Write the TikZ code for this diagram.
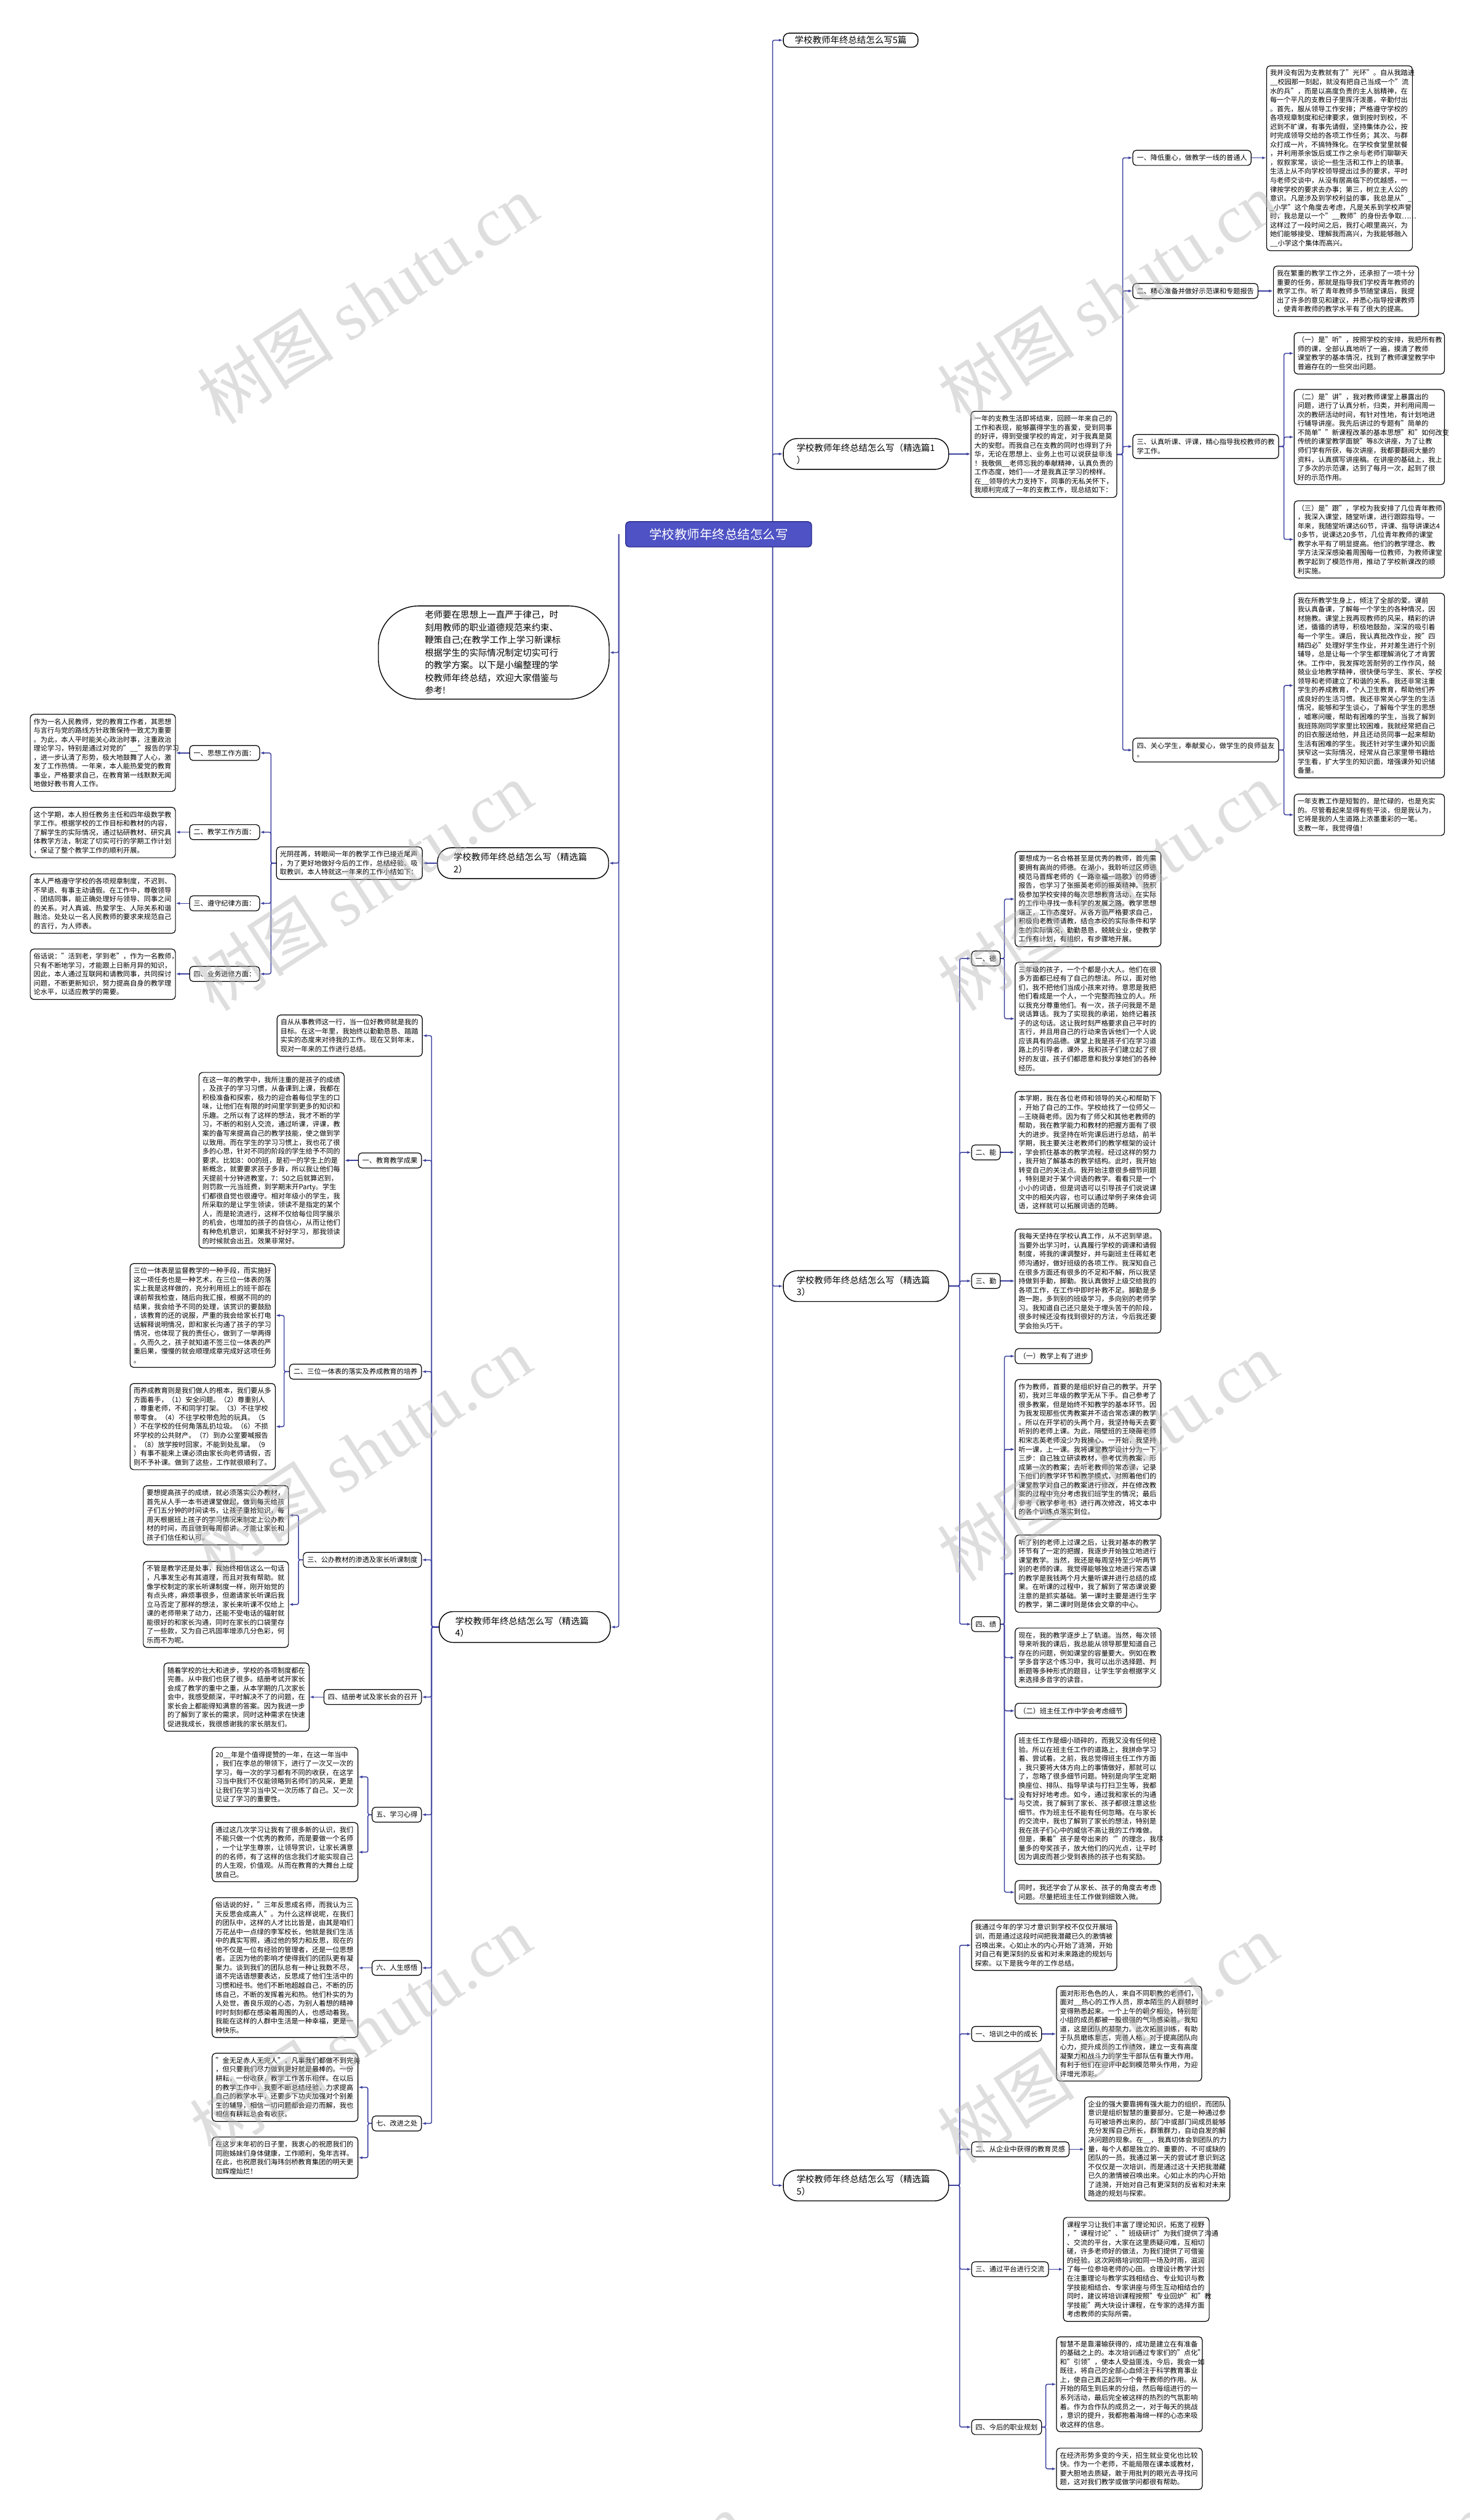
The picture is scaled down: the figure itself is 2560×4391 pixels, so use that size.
\documentclass[tikz,border=0pt]{standalone}
\usepackage{fontspec}
\setmainfont{Noto Sans CJK SC}
\newfontfamily\wmlat{Liberation Serif}
\usetikzlibrary{arrows.meta}
\pgfdeclarelayer{bg}
\pgfdeclarelayer{fg}
\pgfsetlayers{bg,main,fg}
\definecolor{linkc}{HTML}{3B3F9E}
\definecolor{ctrfill}{HTML}{4E52C4}
\definecolor{ctrdraw}{HTML}{2B2E8C}
\definecolor{wmc}{HTML}{B8B8B8}
\tikzset{
 tb/.style={draw=black, line width=1.3pt, rounded corners=6pt, fill=white, align=left, anchor=north west, inner xsep=6pt, inner ysep=7pt, font=\fontsize{12}{15.6}\selectfont},
 lb/.style={draw=black, line width=1.3pt, rounded corners=6pt, fill=white, align=left, inner xsep=7pt, inner ysep=7.5pt, font=\fontsize{12}{15.6}\selectfont},
 big/.style={draw=black, line width=1.5pt, rounded corners=24pt, fill=white, align=left, text width=242pt, inner xsep=23pt, inner ysep=9pt, font=\fontsize{15.5}{21}\selectfont},
 topn/.style={draw=black, line width=1.5pt, rounded corners=10pt, fill=white, inner xsep=20pt, inner ysep=5pt, font=\fontsize{15.5}{21}\selectfont},
 ctr/.style={draw=ctrdraw, line width=1.5pt, rounded corners=6pt, fill=ctrfill, text=white, minimum width=324pt, minimum height=44pt, font=\fontsize{22}{26}\selectfont},
 conn/.style={draw=linkc, line width=1.6pt, rounded corners=3pt, -{Latex[length=7pt,width=5pt]}},
 wm/.style={text=wmc, text opacity=0.45, rotate=33, font=\fontsize{120}{120}\selectfont},
}
\begin{document}
\begin{tikzpicture}[x=1pt,y=-1pt]
\begin{pgfonlayer}{bg}
\fill[white] (0,0) rectangle (2560,4391);
\end{pgfonlayer}
\useasboundingbox (0,0) rectangle (2560,4391);

% ---------- bus coordinates ----------
\coordinate (RB) at (1346,0);
\coordinate (LB) at (1078,0);
\coordinate (b1) at (1956,0);
\coordinate (b13) at (2237,0);
\coordinate (b3) at (1672,0);
\coordinate (b31) at (1750,0);
\coordinate (b54) at (1822,0);
\coordinate (b2) at (472,0);
\coordinate (b4) at (752,0);
\coordinate (b42) at (495,0);
\coordinate (b43) at (520,0);
\coordinate (b45) at (641,0);

% ---------- center ----------
\node[ctr] (C) at (1252,931) {学校教师年终总结怎么写};

% ---------- right side ----------
\node[topn, anchor=west] (P0) at (1364,70) {学校教师年终总结怎么写5篇};

\node[big, anchor=west] (P1) at (1364,791) {学校教师年终总结怎么写（精选篇1\\）};
\node[tb, text width=242pt] (I1) at (1691,716) {一年的支教生活即将结束，回顾一年来自己的\\工作和表现，能够赢得学生的喜爱，受到同事\\的好评，得到受援学校的肯定，对于我真是莫\\大的安慰。而我自己在支教的同时也得到了升\\华，无论在思想上、业务上也可以说获益非浅\\！我敬佩\_\_老师忘我的奉献精神，认真负责的\\工作态度，她们——才是我真正学习的榜样。\\在\_\_领导的大力支持下，同事的无私关怀下，\\我顺利完成了一年的支教工作，现总结如下：};

\node[lb, anchor=west] (P1a) at (1973,275) {一、降低重心，做教学一线的普通人};
\node[tb, text width=242pt] (P1aT) at (2206,114) {我并没有因为支教就有了"光环"。自从我踏进\\\_\_校园那一刻起，就没有把自己当成一个"流\\水的兵"，而是以高度负责的主人翁精神，在\\每一个平凡的支教日子里挥汗泼墨，辛勤付出\\。首先，服从领导工作安排；严格遵守学校的\\各项规章制度和纪律要求，做到按时到校，不\\迟到不旷课，有事先请假，坚持集体办公，按\\时完成领导交给的各项工作任务；其次、与群\\众打成一片，不搞特殊化。在学校食堂里就餐\\，并利用茶余饭后或工作之余与老师们聊聊天\\，叙叙家常，谈论一些生活和工作上的琐事。\\生活上从不向学校领导提出过多的要求，平时\\与老师交谈中，从没有居高临下的优越感，一\\律按学校的要求去办事；第三，树立主人公的\\意识。凡是涉及到学校利益的事，我总是从"\_\\\_小学"这个角度去考虑，凡是关系到学校声誉\\时，我总是以一个"\_\_教师"的身份去争取……\\这样过了一段时间之后，我打心眼里高兴，为\\她们能够接受、理解我而高兴，为我能够融入\\\_\_小学这个集体而高兴。};

\node[lb, anchor=west] (P1b) at (1973,507) {二、精心准备并做好示范课和专题报告};
\node[tb, text width=241pt] (P1bT) at (2218,463) {我在繁重的教学工作之外，还承担了一项十分\\重要的任务，那就是指导我们学校青年教师的\\教学工作。听了青年教师多节随堂课后，我提\\出了许多的意见和建议，并悉心指导授课教师\\，使青年教师的教学水平有了很大的提高。};

\node[lb, anchor=west, text width=240pt] (P1c) at (1973,778) {三、认真听课、评课，精心指导我校教师的教\\学工作。};
\node[tb, text width=250pt] (P1c1) at (2254,579) {（一）是"听"，按照学校的安排，我把所有教\\师的课，全部认真地听了一遍，摸清了教师\\课堂教学的基本情况，找到了教师课堂教学中\\普遍存在的一些突出问题。};
\node[tb, text width=250pt] (P1c2) at (2254,678) {（二）是"讲"，我对教师课堂上暴露出的\\问题，进行了认真分析，归类，并利用间周一\\次的教研活动时间，有针对性地，有计划地进\\行辅导讲座。我先后讲过的专题有"简单的\\不简单""新课程改革的基本思想"和"如何改变\\传统的课堂教学面貌"等8次讲座，为了让教\\师们学有所获，每次讲座，我都要翻阅大量的\\资料，认真撰写讲座稿。在讲座的基础上，我上\\了多次的示范课，达到了每月一次，起到了很\\好的示范作用。};
\node[tb, text width=250pt] (P1c3) at (2254,872) {（三）是"跟"，学校为我安排了几位青年教师\\，我深入课堂，随堂听课，进行跟踪指导。一\\年来，我随堂听课达60节，评课、指导讲课达4\\0多节，说课达20多节，几位青年教师的课堂\\教学水平有了明显提高。他们的教学理念、教\\学方法深深感染着周围每一位教师，为教师课堂\\教学起到了模范作用，推动了学校新课改的顺\\利实施。};

\node[lb, anchor=west, text width=240pt] (P1d) at (1973,1307) {四、关心学生，奉献爱心，做学生的良师益友\\。};
\node[tb, text width=250pt] (P1d1) at (2254,1033) {我在所教学生身上，倾注了全部的爱。课前\\我认真备课，了解每一个学生的各种情况，因\\材施教。课堂上我再现教师的风采，精彩的讲\\述，循循的诱导，积极地鼓励，深深的吸引着\\每一个学生。课后，我认真批改作业，按"四\\精四必"处理好学生作业，并对差生进行个别\\辅导，总是让每一个学生都理解消化了才肯罢\\休。工作中，我发挥吃苦耐劳的工作作风，兢\\兢业业地教学精神，很快便与学生、家长、学校\\领导和老师建立了和谐的关系。我还非常注重\\学生的养成教育，个人卫生教育，帮助他们养\\成良好的生活习惯。我还非常关心学生的生活\\情况，能够和学生谈心，了解每个学生的思想\\，嘘寒问暖，帮助有困难的学生，当我了解到\\我班陈刚同学家里比较困难，我就经常把自己\\的旧衣服送给他，并且还动员同事一起来帮助\\生活有困难的学生。我还针对学生课外知识面\\狭窄这一实际情况，经常从自己家里带书籍给\\学生看，扩大学生的知识面，增强课外知识储\\备量。};
\node[tb, text width=250pt] (P1d2) at (2254,1383) {一年支教工作是短暂的，是忙碌的，也是充实\\的。尽管看起来显得有些平淡，但是我认为，\\它将是我的人生道路上浓墨重彩的一笔。\\支教一年，我觉得值！};

% ----- 篇3 -----
\node[big, anchor=west] (P3) at (1364,2241) {学校教师年终总结怎么写（精选篇\\3）};
\node[lb, anchor=west] (P3a) at (1692,1670) {一、德};
\node[tb, text width=242pt] (P3a1) at (1768,1483) {要想成为一名合格甚至是优秀的教师，首先需\\要拥有高尚的师德。在湖小，我聆听过区师德\\模范马晋辉老师的《一路幸福一路歌》的师德\\报告，也学习了张振英老师的振英精神。我积\\极参加学校安排的每次思想教育活动，在实际\\的工作中寻找一条科学的发展之路。教学思想\\端正，工作态度好。从各方面严格要求自己，\\积极向老教师请教，结合本校的实际条件和学\\生的实际情况，勤勤恳恳，兢兢业业，使教学\\工作有计划，有组织，有步骤地开展。};
\node[tb, text width=242pt] (P3a2) at (1768,1676) {三年级的孩子，一个个都是小大人。他们在很\\多方面都已经有了自己的想法。所以，面对他\\们，我不把他们当成小孩来对待。意思是我把\\他们看成是一个人，一个完整而独立的人。所\\以我充分尊重他们。有一次，孩子问我是不是\\说话算话。我为了实现我的承诺，始终记着孩\\子的这句话。这让我时刻严格要求自己平时的\\言行，并且用自己的行动来告诉他们一个人说\\应该具有的品德。课堂上我是孩子们在学习道\\路上的引导者，课外，我和孩子们建立起了很\\好的友谊，孩子们都愿意和我分享她们的各种\\经历。};
\node[lb, anchor=west] (P3b) at (1692,2008) {二、能};
\node[tb, text width=242pt] (P3b1) at (1768,1901) {本学期，我在各位老师和领导的关心和帮助下\\，开始了自己的工作。学校给找了一位师父—\\—王晓薇老师。因为有了师父和其他老教师的\\帮助，我在教学能力和教材的把握方面有了很\\大的进步。我坚持在听完课后进行总结，前半\\学期，我主要关注老教师们的教学框架的设计\\，学会抓住基本的教学流程。经过这样的努力\\，我开始了解基本的教学结构。此时，我开始\\转变自己的关注点。我开始注意很多细节问题\\，特别是对于某个词语的教学。看看只是一个\\小小的词语，但是词语可以引导孩子们说说课\\文中的相关内容，也可以通过举例子来体会词\\语，这样就可以拓展词语的范畴。};
\node[lb, anchor=west] (P3c) at (1692,2232) {三、勤};
\node[tb, text width=242pt] (P3c1) at (1768,2141) {我每天坚持在学校认真工作，从不迟到早退。\\当要外出学习时，认真履行学校的调课和请假\\制度，将我的课调整好，并与副班主任蒋虹老\\师沟通好，做好班级的各项工作。我深知自己\\在很多方面还有很多的不足和不解，所以我坚\\持做到手勤，脚勤。我认真做好上级交给我的\\各项工作，在工作中即时补救不足。脚勤是多\\跑一跑，多到别的班级学习，多向别的老师学\\习。我知道自己还只是处于埋头苦干的阶段，\\很多时候还没有找到很好的方法，今后我还要\\学会抬头巧干。};
\node[lb, anchor=west] (P3d) at (1692,2830) {四、绩};
\node[lb, anchor=west] (P3d1) at (1768,2363) {（一）教学上有了进步};
\node[tb, text width=242pt] (P3d2) at (1768,2403) {作为教师，首要的是组织好自己的教学。开学\\初，我对三年级的教学无从下手。自己参考了\\很多教案，但是始终不知教学的基本环节。因\\为我发现那些优秀教案并不适合常态课的教学\\。所以在开学初的头两个月，我坚持每天去要\\听别的老师上课。为此，隔壁班的王晓薇老师\\和宋志英老师没少为我操心。一开始，我坚持\\听一课，上一课。我将课堂教学设计分为一下\\三步：自己独立研读教材，参考优秀教案，形\\成第一次的教案；去听老教师的常态课，记录\\下他们的教学环节和教学模式，对照着他们的\\课堂教学对自己的教案进行修改，并在修改教\\案的过程中充分考虑我们班学生的情况；最后\\参考《教学参考书》进行再次修改，将文本中\\的各个训练点落实到位。};
\node[tb, text width=242pt] (P3d3) at (1768,2674) {听了别的老师上过课之后，让我对基本的教学\\环节有了一定的把握，我逐步开始独立地进行\\课堂教学。当然，我还是每周坚持至少听两节\\别的老师的课。我觉得能够独立地进行常态课\\的教学是我钱两个月大量听课并进行总结的成\\果。在听课的过程中，我了解到了常态课说要\\注意的是抓实基础。第一课时主要是进行生字\\的教学，第二课时则是体会文章的中心。};
\node[tb, text width=242pt] (P3d4) at (1768,2836) {现在，我的教学逐步上了轨道。当然，每次领\\导来听我的课后，我总能从领导那里知道自己\\存在的问题，例如课堂的容量要大。例如在教\\学多音字这个练习中，我可以出示选择题、判\\断题等多种形式的题目，让学生学会根据字义\\来选择多音字的读音。};
\node[lb, anchor=west] (P3d5) at (1768,2981) {（二）班主任工作中学会考虑细节};
\node[tb, text width=242pt] (P3d6) at (1768,3020) {班主任工作是细小琐碎的，而我又没有任何经\\验。所以在班主任工作的道路上，我拼命学习\\着、尝试着。之前，我总觉得班主任工作方面\\，我只要将大体方向上的事情做好，那就可以\\了，忽略了很多细节问题。特别是向学生定期\\换座位、排队、指导早读与打扫卫生等，我都\\没有好好地考虑。如今，通过我和家长的沟通\\与交流，我了解到了家长、孩子都很注意这些\\细节。作为班主任不能有任何忽略。在与家长\\的交流中，我也了解到了家长的想法，特别是\\我在孩子们心中的威信不高让我的工作难做。\\但是，秉着"孩子是夸出来的`"的理念，我尽\\量多的夸奖孩子，放大他们的闪光点，让平时\\因为调皮而甚少受到表扬的孩子也有奖励。};
\node[tb, text width=242pt] (P3d7) at (1768,3276) {同时，我还学会了从家长、孩子的角度去考虑\\问题。尽量把班主任工作做到细致入微。};

% ----- 篇5 -----
\node[big, anchor=west] (P5) at (1364,3808) {学校教师年终总结怎么写（精选篇\\5）};
\node[tb, text width=241pt] (I5) at (1692,3345) {我通过今年的学习才意识到学校不仅仅开展培\\训，而是通过这段时间把我潜藏已久的激情被\\召唤出来。心如止水的内心开始了涟漪，开始\\对自己有更深刻的反省和对未来路途的规划与\\探索。以下是我今年的工作总结。};
\node[lb, anchor=west] (P5a) at (1692,3544) {一、培训之中的成长};
\node[tb, text width=241pt] (P5a1) at (1840,3460) {面对形形色色的人，来自不同职教的老师们，\\面对\_\_热心的工作人员，原本陌生的人群顿时\\变得熟悉起来。一个上午的朝夕相处，特别是\\小组的成员都被一股很强的气场感染着。我知\\道，这是团队的凝聚力。此次拓展训练，有助\\于队员磨练意志，完善人格，对于提高团队向\\心力，提升成员的工作绩效，建立一支有高度\\凝聚力和战斗力的学生干部队伍有重大作用。\\有利于他们在迎评中起到模范带头作用，为迎\\评增光添彩。};
\node[lb, anchor=west] (P5b) at (1692,3745) {二、从企业中获得的教育灵感};
\node[tb, text width=241pt] (P5b1) at (1889,3653) {企业的强大要靠拥有强大能力的组织，而团队\\意识是组织智慧的重要部分。它是一种通过参\\与可被培养出来的，部门中或部门间成员能够\\充分发挥自己所长，群策群力，自动自发的解\\决问题的现象。在\_\_，我真切体会到团队的力\\量，每个人都是独立的、重要的、不可或缺的\\团队的一员。我通过第一天的尝试才意识到这\\不仅仅是一次培训，而是通过这十天把我潜藏\\已久的激情被召唤出来。心如止水的内心开始\\了涟漪，开始对自己有更深刻的反省和对未来\\路途的规划与探索。};
\node[lb, anchor=west] (P5c) at (1692,3954) {三、通过平台进行交流};
\node[tb, text width=242pt] (P5c1) at (1852,3863) {课程学习让我们丰富了理论知识，拓宽了视野\\，"课程讨论"、"班级研讨"为我们提供了沟通\\、交流的平台，大家在这里质疑问难，互相切\\磋，许多老师好的做法，为我们提供了可借鉴\\的经验。这次网络培训如同一场及时雨，滋润\\了每一位参培老师的心田。合理设计教学计划\\在注重理论与教学实践相结合、专业知识与教\\学技能相结合、专家讲座与师生互动相结合的\\同时，建议将培训课程按照"专业回炉"和"教\\学技能"两大块设计课程，在专家的选择方面\\考虑教师的实际所需。};
\node[lb, anchor=west] (P5d) at (1692,4229) {四、今后的职业规划};
\node[tb, text width=242pt] (P5d1) at (1840,4071) {智慧不是靠灌输获得的，成功是建立在有准备\\的基础之上的。本次培训通过专家们的"点化"\\和"引领"，使本人受益匪浅，今后，我会一如\\既往，将自己的全部心血倾注于科学教育事业\\上，使自己真正起到一个骨干教师的作用。从\\开始的陌生到后来的分组，然后每组进行的一\\系列活动，最后完全被这样的热烈的气氛影响\\着。作为合作队的成员之一，对于每天的挑战\\，意识的提升，我都抱着海绵一样的心态来吸\\收这样的信息。};
\node[tb, text width=242pt] (P5d2) at (1840,4265) {在经济形势多变的今天，招生就业变化也比较\\快。作为一个老师，不能局限在课本或教材，\\要大胆地去质疑，敢于用批判的眼光去寻找问\\题，这对我们教学或做学问都很有帮助。};

% ---------- left side ----------
\node[draw=black, line width=1.5pt, rounded corners=70pt, fill=white, align=left, text width=240pt, inner xsep=81pt, inner ysep=8pt, font=\fontsize{15.5}{22}\selectfont, anchor=east] (IL) at (1062,1137) {老师要在思想上一直严于律己，时\\刻用教师的职业道德规范来约束、\\鞭策自己;在教学工作上学习新课标\\根据学生的实际情况制定切实可行\\的教学方案。以下是小编整理的学\\校教师年终总结，欢迎大家借鉴与\\参考!};

% ----- 篇2 -----
\node[big, anchor=east, inner xsep=28pt] (P2) at (1061,1504) {学校教师年终总结怎么写（精选篇\\2）};
\node[tb, text width=242pt] (I2) at (481,1475) {光阴荏苒，转眼间一年的教学工作已接近尾声\\，为了更好地做好今后的工作，总结经验、吸\\取教训，本人特就这一年来的工作小结如下：};
\node[lb, anchor=east] (P2a) at (453,1312) {一、思想工作方面：};
\node[tb, text width=241pt] (P2a1) at (52,1244) {作为一名人民教师，党的教育工作者，其思想\\与言行与党的路线方针政策保持一致尤为重要\\。为此，本人平时能关心政治时事，注重政治\\理论学习，特别是通过对党的"\_\_"报告的学习\\，进一步认清了形势，极大地鼓舞了人心，激\\发了工作热情。一年来，本人能热爱党的教育\\事业，严格要求自己，在教育第一线默默无闻\\地做好教书育人工作。};
\node[lb, anchor=east] (P2b) at (453,1450) {二、教学工作方面：};
\node[tb, text width=241pt] (P2b1) at (52,1406) {这个学期，本人担任教务主任和四年级数学教\\学工作。根据学校的工作目标和教材的内容，\\了解学生的实际情况，通过钻研教材、研究具\\体教学方法，制定了切实可行的学期工作计划\\，保证了整个教学工作的顺利开展。};
\node[lb, anchor=east] (P2c) at (453,1574) {三、遵守纪律方面：};
\node[tb, text width=241pt] (P2c1) at (52,1522) {本人严格遵守学校的各项规章制度，不迟到、\\不早退、有事主动请假。在工作中，尊敬领导\\、团结同事，能正确处理好与领导、同事之间\\的关系。对人真诚、热爱学生、人际关系和谐\\融洽。处处以一名人民教师的要求来规范自己\\的言行，为人师表。};
\node[lb, anchor=east] (P2d) at (453,1697) {四、业务进修方面：};
\node[tb, text width=241pt] (P2d1) at (52,1653) {俗话说："活到老，学到老"，作为一名教师，\\只有不断地学习，才能跟上日新月异的知识，\\因此，本人通过互联网和请教同事，共同探讨\\问题，不断更新知识，努力提高自身的教学理\\论水平，以适应教学的需要。};

% ----- 篇4 -----
\node[big, anchor=east, inner xsep=28pt] (P4) at (1064,2835) {学校教师年终总结怎么写（精选篇\\4）};
\node[tb, text width=241pt] (I4) at (482,1768) {自从从事教师这一行，当一位好教师就是我的\\目标。在这一年里，我始终以勤勤恳恳、踏踏\\实实的态度来对待我的工作。现在又到年末，\\现对一年来的工作进行总结。};
\node[lb, anchor=east] (P4a) at (735,2022) {一、教育教学成果};
\node[tb, text width=241pt] (P4a1) at (346,1868) {在这一年的教学中，我所注重的是孩子的成绩\\，及孩子的学习习惯，从备课到上课，我都在\\积极准备和探索，极力的迎合着每位学生的口\\味，让他们在有限的时间里学到更多的知识和\\乐趣。之所以有了这样的想法，我才不断的学\\习，不断的和别人交流，通过听课，评课，教\\案的备写来提高自己的教学技能，使之做到学\\以致用。而在学生的学习习惯上，我也花了很\\多的心思，针对不同的阶段的学生给予不同的\\要求。比如8：00的班，是初一的学生上的是\\新概念，就要要求孩子多背，所以我让他们每\\天提前十分钟进教室，7：50之后就算迟到，\\则罚款一元当班费，到学期末开Party。学生\\们都很自觉也很遵守。相对年级小的学生，我\\所采取的是让学生领读，领读不是指定的某个\\人，而是轮流进行，这样不仅给每位同学展示\\的机会，也增加的孩子的自信心，从而让他们\\有种危机意识，如果我不好好学习，那我领读\\的时候就会出丑。效果非常好。};
\node[lb, anchor=east] (P4b) at (735,2390) {二、三位一体表的落实及养成教育的培养};
\node[tb, text width=241pt] (P4b1) at (226,2201) {三位一体表是监督教学的一种手段，而实施好\\这一项任务也是一种艺术，在三位一体表的落\\实上我是这样做的，充分利用班上的班干部在\\课前帮我检查，随后向我汇报，根据不同的的\\结果，我会给予不同的处理，该赏识的要鼓励\\，该教育的还的说服，严重的我会给家长打电\\话解释说明情况，即和家长沟通了孩子的学习\\情况，也体现了我的责任心，做到了一举两得\\。久而久之，孩子就知道不签三位一体表的严\\重后果，慢慢的就会顺理成章完成好这项任务\\。};
\node[tb, text width=241pt] (P4b2) at (226,2410) {而养成教育则是我们做人的根本，我们要从多\\方面着手，（1）安全问题。（2）尊重别人\\，尊重老师，不和同学打架。（3）不往学校\\带零食。（4）不往学校带危险的玩具。（5\\）不在学校的任何角落乱扔垃圾。（6）不损\\坏学校的公共财产。（7）到办公室要喊报告\\。（8）放学按时回家，不能到处乱窜。（9\\）有事不能来上课必须由家长向老师请假，否\\则不予补课。做到了这些，工作就很顺利了。};
\node[lb, anchor=east] (P4c) at (735,2718) {三、公办教材的渗透及家长听课制度};
\node[tb, text width=241pt] (P4c1) at (249,2588) {要想提高孩子的成绩，就必须落实公办教材，\\首先从人手一本书进课堂做起，做到每天给孩\\子们五分钟的时间读书，让孩子重拾知识，每\\周天根据班上孩子的学习情况来制定上公办教\\材的时间，而且做到每周都讲，才能让家长和\\孩子们信任和认可。};
\node[tb, text width=241pt] (P4c2) at (249,2720) {不管是教学还是处事，我始终相信这么一句话\\，凡事发生必有其道理，而且对我有帮助。就\\像学校制定的家长听课制度一样，刚开始觉的\\有点头疼，麻烦事很多，但邀请家长听课后我\\立马否定了那样的想法，家长来听课不仅给上\\课的老师带来了动力，还能不受电话的辐射就\\能很好的和家长沟通，同时在家长的口袋里存\\了一些款，又为自己巩固率增添几分色彩，何\\乐而不为呢。};
\node[lb, anchor=east] (P4d) at (735,2957) {四、结册考试及家长会的召开};
\node[tb, text width=241pt] (P4d1) at (285,2897) {随着学校的壮大和进步，学校的各项制度都在\\完善。从中我们也获了很多。结册考试开家长\\会成了教学的重中之重，从本学期的几次家长\\会中，我感受颇深，平时解决不了的问题，在\\家长会上都能得知满意的答案。因为我进一步\\的了解到了家长的需求，同时这种需求在快速\\促进我成长，我很感谢我的家长朋友们。};
\node[lb, anchor=east] (P4e) at (735,3162) {五、学习心得};
\node[tb, text width=242pt] (P4e1) at (369,3044) {20\_\_年是个值得提赞的一年，在这一年当中\\，我们在李总的带领下，进行了一次又一次的\\学习，每一次的学习都有不同的收获，在这学\\习当中我们不仅能领略到名师们的风采，更是\\让我们在学习当中又一次历练了自己。又一次\\见证了学习的重要性。};
\node[tb, text width=242pt] (P4e2) at (369,3175) {通过这几次学习让我有了很多新的认识，我们\\不能只做一个优秀的教师，而是要做一个名师\\，一个让学生尊崇，让领导赏识，让家长满意\\的的名师，有了这样的信念我们才能实现自己\\的人生观，价值观。从而在教育的大舞台上绽\\放自己。};
\node[lb, anchor=east] (P4f) at (735,3429) {六、人生感悟};
\node[tb, text width=242pt] (P4f1) at (369,3306) {俗话说的好，"三年反思成名师，而我认为三\\天反思会成高人"。为什么这样说呢，在我们\\的团队中，这样的人才比比皆是，由其是咱们\\万花丛中一点绿的李军校长，他就是我们生活\\中的真实写照，通过他的努力和反思，现在的\\他不仅是一位有经验的管理者，还是一位思想\\者。正因为他的影响才使得我们的团队更有凝\\聚力。谈到我们的团队总有一种让我数不尽，\\道不完话语想要表达，反思成了他们生活中的\\习惯和经书。他们不断地超越自己，不断的历\\练自己，不断的发挥着光和热。他们朴实的为\\人处世，善良乐观的心态，为别人着想的精神\\时时刻刻都在感染着周围的人，也感动着我。\\我能在这样的人群中生活是一种幸福，更是一\\种快乐。};
\node[lb, anchor=east] (P4g) at (735,3700) {七、改进之处};
\node[tb, text width=242pt] (P4g1) at (369,3577) {"金无足赤人无完人"，凡事我们都做不到完美\\，但只要我们尽力做到更好就是最棒的。一份\\耕耘，一份收获，教学工作苦乐相伴。在以后\\的教学工作中，我要不断总结经验，力求提高\\自己的教学水平，还要多下功夫加强对个别差\\生的辅导，相信一切问题都会迎刃而解，我也\\相信有耕耘总会有收获。};
\node[tb, text width=242pt] (P4g2) at (369,3723) {在这岁末年初的日子里，我衷心的祝愿我们的\\同胞姊妹们身体健康，工作顺利，兔年吉祥。\\在此，也祝愿我们海玮剑桥教育集团的明天更\\加辉煌灿烂！};

% ---------- connectors ----------
\begin{pgfonlayer}{bg}
\foreach \t in {P0,P1,P3,P5} \draw[conn] (C.center -| RB) |- (\t.west);
\foreach \t in {IL,P2,P4} \draw[conn] (C.center -| LB) |- (\t.east);
\draw[conn] (P1.east) -- (P1.east -| I1.west);
\foreach \t in {P1a,P1b,P1c,P1d} \draw[conn] (I1.east) -- (I1.east -| b1) |- (\t.west);
\draw[conn] (P1a.east) -- (P1a.east -| P1aT.west);
\draw[conn] (P1b.east) -- (P1b.east -| P1bT.west);
\foreach \t in {P1c1,P1c2,P1c3} \draw[conn] (P1c.east) -- (P1c.east -| b13) |- (\t.west);
\foreach \t in {P1d1,P1d2} \draw[conn] (P1d.east) -- (P1d.east -| b13) |- (\t.west);
\foreach \t in {P3a,P3b,P3c,P3d} \draw[conn] (P3.east) -- (P3.east -| b3) |- (\t.west);
\foreach \t in {P3a1,P3a2} \draw[conn] (P3a.east) -- (P3a.east -| b31) |- (\t.west);
\draw[conn] (P3b.east) -- (P3b.east -| P3b1.west);
\draw[conn] (P3c.east) -- (P3c.east -| P3c1.west);
\foreach \t in {P3d1,P3d2,P3d3,P3d4,P3d5,P3d6,P3d7} \draw[conn] (P3d.east) -- (P3d.east -| b31) |- (\t.west);
\foreach \t in {I5,P5a,P5b,P5c,P5d} \draw[conn] (P5.east) -- (P5.east -| b3) |- (\t.west);
\draw[conn] (P5a.east) -- (P5a.east -| P5a1.west);
\draw[conn] (P5b.east) -- (P5b.east -| P5b1.west);
\draw[conn] (P5c.east) -- (P5c.east -| P5c1.west);
\foreach \t in {P5d1,P5d2} \draw[conn] (P5d.east) -- (P5d.east -| b54) |- (\t.west);
\draw[conn] (P2.west) -- (P2.west -| I2.east);
\foreach \t in {P2a,P2b,P2c,P2d} \draw[conn] (I2.west) -- (I2.west -| b2) |- (\t.east);
\draw[conn] (P2a.west) -- (P2a.west -| P2a1.east);
\draw[conn] (P2b.west) -- (P2b.west -| P2b1.east);
\draw[conn] (P2c.west) -- (P2c.west -| P2c1.east);
\draw[conn] (P2d.west) -- (P2d.west -| P2d1.east);
\foreach \t in {I4,P4a,P4b,P4c,P4d,P4e,P4f,P4g} \draw[conn] (P4.west) -- (P4.west -| b4) |- (\t.east);
\draw[conn] (P4a.west) -- (P4a.west -| P4a1.east);
\foreach \t in {P4b1,P4b2} \draw[conn] (P4b.west) -- (P4b.west -| b42) |- (\t.east);
\foreach \t in {P4c1,P4c2} \draw[conn] (P4c.west) -- (P4c.west -| b43) |- (\t.east);
\draw[conn] (P4d.west) -- (P4d.west -| P4d1.east);
\foreach \t in {P4e1,P4e2} \draw[conn] (P4e.west) -- (P4e.west -| b45) |- (\t.east);
\draw[conn] (P4f.west) -- (P4f.west -| P4f1.east);
\foreach \t in {P4g1,P4g2} \draw[conn] (P4g.west) -- (P4g.west -| b45) |- (\t.east);
\end{pgfonlayer}

% ---------- watermarks ----------
\begin{pgfonlayer}{fg}
\begin{scope}
\clip (0,0) rectangle (2560,4391);
\foreach \wx/\wy in {640/522, 1930/516, 630/1544, 1930/1544, 628/2530, 1930/2538, 628/3538, 1930/3552, 1000/4560, 2300/4560}
  \node[wm] at (\wx,\wy) {树图 {\wmlat shutu.cn}};
\end{scope}
\end{pgfonlayer}
\end{tikzpicture}
\end{document}
